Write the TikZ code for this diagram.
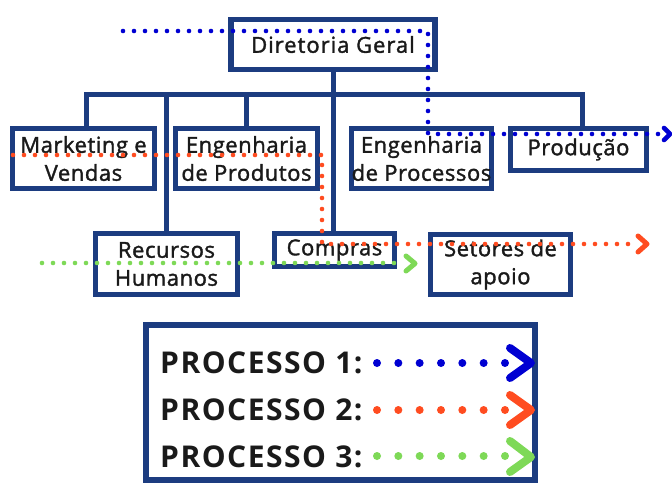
\documentclass[tikz,border=0pt]{standalone}
\usepackage{fontspec}
\setmainfont{Open Sans}
\newfontfamily\nodefont[LetterSpace=2.5, FakeBold=1.6]{Open Sans}
\newfontfamily\dgfont[LetterSpace=4.5, FakeBold=1.6]{Open Sans}
\newfontfamily\legfont[LetterSpace=5]{Open Sans}
\usetikzlibrary{calc}
\definecolor{navy}{RGB}{28,60,128}
\definecolor{ink}{RGB}{26,26,26}
\definecolor{pblue}{RGB}{0,0,210}
\definecolor{pred}{RGB}{255,76,32}
\definecolor{pgreen}{RGB}{126,217,87}
\begin{document}
\begin{tikzpicture}[x=1pt,y=-1pt,
  box/.style={draw=navy, line width=5.5pt, fill=white, align=center, text=ink, inner sep=0pt,
    font=\nodefont\fontsize{22}{28}\selectfont},
  tree/.style={draw=navy, line width=5pt},
  proc/.style={line width=4.6pt, line cap=round, dash pattern=on 0pt off 11pt},
  chev/.style={line width=4.6pt, line cap=round, line join=round},
  legdot/.style={line width=8pt, line cap=round, dash pattern=on 0pt off 21.33pt},
  legchev/.style={line width=8pt, line cap=round, line join=round},
  leg/.style={text=ink, inner sep=0pt, font=\legfont\fontsize{30}{36}\selectfont\bfseries}]
\useasboundingbox (0,0) rectangle (672,482);
\fill[white] (0,0) rectangle (672,482);

% tree connectors
\coordinate (bar) at (334,94);
\node[box, minimum width=204pt, minimum height=50pt, font=\dgfont\fontsize{22}{28}\selectfont] (dg) at (333,44.5) {Diretoria Geral};
\node[box, minimum width=142pt, minimum height=60pt] (mv) at (83.5,158.5) {Marketing e\\Vendas};
\node[box, minimum width=142pt, minimum height=60pt] (epd) at (246.5,158.5) {Engenharia\\de Produtos};
\node[box, minimum width=140pt, minimum height=60pt] (epc) at (421.5,158.5) {Engenharia\\de Processos};
\node[box, minimum width=136pt, minimum height=42pt] (pr) at (578.5,149.5) {Produção};
\node[box, minimum width=142pt, minimum height=61pt] (rh) at (166.5,264) {Recursos\\Humanos};
\node[box, minimum width=120pt, minimum height=33pt] (cp) at (334.5,250) {Compras};
\node[box, minimum width=140pt, minimum height=60pt] (sa) at (500.5,264.5) {Setores de\\apoio};

\draw[tree] ($(mv.north)+(3,0)$) |- (bar) -| ($(pr.north)+(3.5,0)$);
\draw[tree] (dg.south) -- (dg.south |- cp.north);
\draw[tree] (rh.north) -- (rh.north |- bar);
\draw[tree] (epd.north) -- (epd.north |- bar);
\draw[tree] ($(epc.north)+(4,0)$) -- ($(epc.north)+(4,0)$ |- bar);
\draw[tree] ($(sa.north)+(-1.5,0)$) -- ($(sa.north)+(-1.5,0)$ |- bar);

% legend
\node[draw=navy, line width=6pt, fill=white, minimum width=389pt, minimum height=155pt, inner sep=0pt] (lg) at (340,402) {};
\node[leg, anchor=base west] (l1) at (160,373) {PROCESSO 1:};
\node[leg, anchor=base west] (l2) at (160,420) {PROCESSO 2:};
\node[leg, anchor=base west] (l3) at (160,467) {PROCESSO 3:};
\coordinate (d1a) at (377,363); \coordinate (d1b) at (506,363);
\coordinate (d2a) at (377,410); \coordinate (d2b) at (506,410);
\coordinate (d3a) at (377,456); \coordinate (d3b) at (506,456);
\draw[legdot, pblue] (d1a) -- (d1b);
\draw[legdot, pred] (d2a) -- (d2b);
\draw[legdot, pgreen] (d3a) -- (d3b);
\draw[legchev, pblue] (510,348) -- (531,363) -- (510,378);
\draw[legchev, pred] (510,395) -- (531,410) -- (510,425);
\draw[legchev, pgreen] (510,441) -- (531,457) -- (510,472);

% process paths
\coordinate (b0) at (123,31); \coordinate (b1) at (428,31);
\coordinate (b2) at (428,134); \coordinate (b3) at (661,134);
\draw[proc, pblue] (b0) -- (b1) -- (b2) -- (b3);
\draw[chev, pblue] ($(b3)+(3,-6)$) -- ($(b3)+(9,0)$) -- ($(b3)+(3,6)$);

\coordinate (r0) at (13,155); \coordinate (r1) at (322,155);
\coordinate (r2) at (322,244); \coordinate (r3) at (630,244);
\draw[proc, pred] (r0) -- (r1) -- (r2) -- (r3);
\draw[chev, pred, line width=5pt] (638,236) -- (647,244) -- (638,252);

\coordinate (g0) at (42,263); \coordinate (g1) at (398,263);
\draw[proc, pgreen] (g0) -- (g1);
\draw[chev, pgreen, line width=5pt] (406,256) -- (415,263.5) -- (406,271);
\end{tikzpicture}
\end{document}
